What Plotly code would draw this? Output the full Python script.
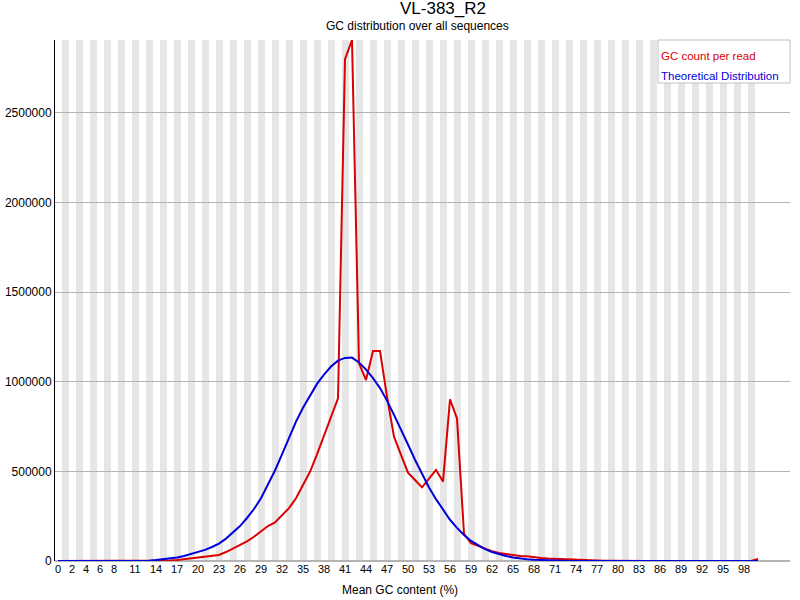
# GC content plot (FastQC style) rebuilt with plotly

import plotly.graph_objs as go

TITLE = 'VL-383_R2'
SUBTITLE = 'GC distribution over all sequences'
X_TITLE = 'Mean GC content (%)'

gc_percent = list(range(101))

gc_count = [
    0, 0, 0, 0, 0, 0, 0, 0, 0, 0,
    0, 0, 0, 0, 0, 1000, 3000, 6000, 10000, 17000,
    21000, 25000, 29000, 34000, 50000, 70000, 89000, 110000, 135000, 165000,
    195000, 215000, 255000, 295000, 350000, 425000, 498000, 595000, 700000, 805000,
    908000, 2800000, 2907000, 1103000, 1010000, 1172000, 1172000, 917000, 694000, 592000,
    493000, 452000, 411000, 459000, 508000, 443000, 902000, 796000, 152000, 100000,
    85000, 68000, 55000, 45000, 38000, 33000, 28000, 26000, 20000, 17000,
    14000, 12000, 10000, 8000, 5000, 3000, 2000, 1000, 1000, 1000,
    0, 0, 0, 0, 0, 0, 0, 0, 0, 0,
    0, 0, 0, 0, 0, 0, 0, 0, 0, 0,
    12000,
]

theoretical = [
    0, 0, 0, 0, 0, 0, 0, 0, 0, 0,
    0, 500, 1000, 2000, 5000, 9000, 14000, 20000, 28000, 38000,
    50000, 62000, 78000, 97000, 125000, 158000, 195000, 240000, 290000, 350000,
    425000, 505000, 595000, 688000, 778000, 855000, 925000, 988000, 1040000, 1085000,
    1118000, 1133000, 1135000, 1108000, 1068000, 1020000, 965000, 895000, 815000, 735000,
    650000, 565000, 485000, 410000, 345000, 285000, 230000, 185000, 145000, 112000,
    88000, 66000, 50000, 37000, 28000, 20000, 14000, 10000, 7000, 5000,
    3000, 2000, 1000, 0, 0, 0, 0, 0, 0, 0,
    0, 0, 0, 0, 0, 0, 0, 0, 0, 0,
    0, 0, 0, 0, 0, 0, 0, 0, 0, 0,
    0,
]

x_ticks = [0, 2, 4, 6, 8, 11, 14, 17, 20, 23, 26, 29, 32, 35, 38, 41, 44, 47,
           50, 53, 56, 59, 62, 65, 68, 71, 74, 77, 80, 83, 86, 89, 92, 95, 98]
y_ticks = [0, 500000, 1000000, 1500000, 2000000, 2500000]

RED = 'rgb(220,0,0)'
BLUE = 'rgb(0,0,220)'
FONT = 'Liberation Sans'

fig = go.Figure()

fig.add_trace(go.Scatter(x=gc_percent, y=gc_count, mode='lines',
                         name='GC count per read', line=dict(color=RED, width=2)))
fig.add_trace(go.Scatter(x=gc_percent, y=theoretical, mode='lines',
                         name='Theoretical Distribution', line=dict(color=BLUE, width=2)))

# alternating grey bands, one per category
shapes = []
for i in gc_percent:
    if i % 2 == 1:
        shapes.append(dict(type='rect', xref='x', yref='paper',
                           x0=i - 3 / 7, x1=i + 4 / 7, y0=0, y1=1,
                           fillcolor='rgb(230,230,230)', line=dict(width=0),
                           layer='below'))

# legend box
shapes.append(dict(type='rect', xref='paper', yref='paper',
                   x0=(658 - 55) / 735, x1=(790 - 55) / 735,
                   y0=(561 - 83) / 521, y1=1,
                   fillcolor='white', line=dict(color='rgb(192,192,192)', width=1),
                   layer='above'))

annotations = [
    dict(text=TITLE, xref='paper', yref='paper', x=(443 - 55) / 735, y=1 + 31 / 521,
         showarrow=False, font=dict(family=FONT, size=17, color='black'),
         xanchor='center', yanchor='middle'),
    dict(text=SUBTITLE, xref='paper', yref='paper', x=(417 - 55) / 735, y=1 + 14 / 521,
         showarrow=False, font=dict(family=FONT, size=12, color='black'),
         xanchor='center', yanchor='middle'),
    dict(text=X_TITLE, xref='paper', yref='paper', x=(400 - 55) / 735, y=-(590 - 561) / 521,
         showarrow=False, font=dict(family=FONT, size=12, color='black'),
         xanchor='center', yanchor='middle'),
    dict(text='GC count per read', xref='paper', yref='paper', x=(659 - 55) / 735,
         y=(561 - 56) / 521, showarrow=False, font=dict(family=FONT, size=11.5, color=RED),
         xanchor='left', yanchor='middle'),
    dict(text='Theoretical Distribution', xref='paper', yref='paper', x=(659 - 55) / 735,
         y=(561 - 76) / 521, showarrow=False, font=dict(family=FONT, size=11.5, color=BLUE),
         xanchor='left', yanchor='middle'),
]

fig.update_layout(
    width=800, height=600,
    margin=dict(l=55, r=10, t=40, b=39, autoexpand=False),
    paper_bgcolor='white', plot_bgcolor='white',
    showlegend=False,
    shapes=shapes,
    annotations=annotations,
    font=dict(family=FONT, size=12, color='black'),
    xaxis=dict(range=[-3 / 7, 105 - 3 / 7], showgrid=False, zeroline=False,
               tickvals=x_ticks, ticktext=[str(v) for v in x_ticks],
               ticks='', showline=False, tickfont=dict(size=11), automargin=False),
    yaxis=dict(range=[0, 2907000], showgrid=True, gridcolor='rgb(180,180,180)',
               gridwidth=1, zeroline=True, zerolinecolor='rgb(180,180,180)',
               tickvals=y_ticks, ticktext=[str(v) for v in y_ticks],
               ticks='', showline=True, linecolor='black', linewidth=1,
               tickfont=dict(size=12), automargin=False),
)

# drop the default page margin so the figure sits at the window corner
fig.write_html("out.html", config={'displayModeBar': False},
               post_script="document.body.style.margin = '0';")
